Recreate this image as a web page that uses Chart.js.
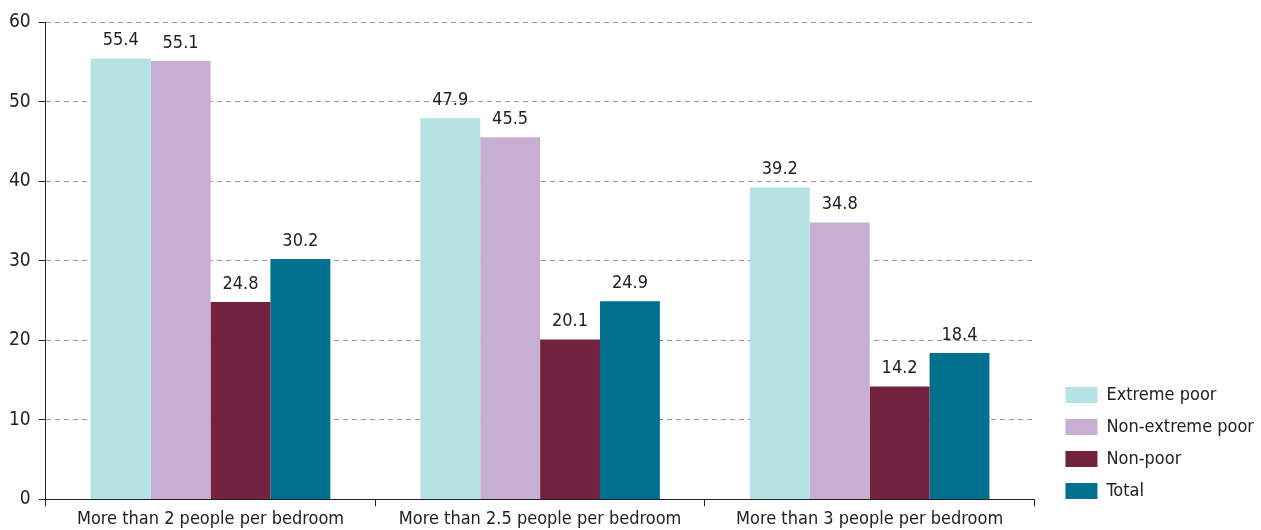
<!DOCTYPE html>
<html>
<head>
<meta charset="utf-8">
<script src="https://cdn.jsdelivr.net/npm/chart.js@4"></script>
<style>
  html, body { margin: 0; padding: 0; background: #fff; }
  #wrap { width: 1261px; height: 530px; }
</style>
</head>
<body>
<div id="wrap"><canvas id="crowdChart"></canvas></div>
<script>
const categories = ['More than 2 people per bedroom', 'More than 2.5 people per bedroom', 'More than 3 people per bedroom'];
const seriesNames = ['Extreme poor', 'Non-extreme poor', 'Non-poor', 'Total'];
const extremePoor = [55.4, 47.9, 39.2];
const nonExtremePoor = [55.1, 45.5, 34.8];
const nonPoor = [24.8, 20.1, 14.2];
const total = [30.2, 24.9, 18.4];
const yTicks = [0, 10, 20, 30, 40, 50, 60];
const colors = ['#b5e2e5', '#c9aed3', '#72223f', '#00708f'];

const FONT = "'Liberation Sans Narrow', 'DejaVu Sans Condensed', 'Roboto', sans-serif";

// draws the value above every bar
const valueLabels = {
  id: 'valueLabels',
  afterDatasetsDraw(chart) {
    const ctx = chart.ctx;
    ctx.save();
    ctx.font = '18px ' + FONT;
    ctx.fillStyle = '#222';
    ctx.textAlign = 'center';
    ctx.textBaseline = 'bottom';
    chart.data.datasets.forEach((ds, i) => {
      chart.getDatasetMeta(i).data.forEach((bar, j) => {
        ctx.fillText(ds.data[j].toFixed(1), bar.x, bar.y - 9);
      });
    });
    ctx.restore();
  }
};

// nudge the legend a bit right and up, like the original
const legendShift = {
  id: 'legendShift',
  afterLayout(chart) {
    const lg = chart.legend;
    if (!lg) return;
    lg.left += 17; lg.right += 17;
    lg.top -= 18; lg.bottom -= 18;
  }
};

document.addEventListener('DOMContentLoaded', function () {
  const allSeries = [extremePoor, nonExtremePoor, nonPoor, total];
  const ctx = document.getElementById('crowdChart').getContext('2d');
  new Chart(ctx, {
    type: 'bar',
    data: {
      labels: categories,
      datasets: allSeries.map((vals, i) => ({
        label: seriesNames[i],
        data: vals,
        backgroundColor: colors[i],
        borderWidth: 0,
        barPercentage: 1,
        categoryPercentage: 0.727
      }))
    },
    options: {
      responsive: true,
      maintainAspectRatio: false,
      animation: false,
      layout: { padding: { top: 22, right: 14, left: 1, bottom: -2 } },
      plugins: {
        legend: {
          position: 'right',
          align: 'end',
          labels: {
            boxWidth: 32,
            boxHeight: 16,
            padding: 14,
            color: '#222',
            font: { family: FONT, size: 18 }
          }
        },
        tooltip: { enabled: false }
      },
      scales: {
        x: {
          grid: {
            offset: true,
            drawOnChartArea: false,
            drawTicks: true,
            tickLength: 7,
            tickColor: '#222',
            tickWidth: 1
          },
          border: { color: '#222', width: 1 },
          ticks: { color: '#222', font: { family: FONT, size: 18 }, padding: 2, maxRotation: 0 }
        },
        y: {
          min: 0,
          max: 60,
          afterBuildTicks(scale) { scale.ticks = yTicks.map(v => ({ value: v })); },
          grid: {
            color: '#999',
            tickBorderDash: [],
            tickColor: '#222',
            tickLength: 7,
            lineWidth: 1
          },
          border: { color: '#222', width: 1, dash: [5, 4] },
          ticks: { color: '#222', font: { family: FONT, size: 19 }, padding: 8 }
        }
      }
    },
    plugins: [valueLabels, legendShift]
  });
});
</script>
</body>
</html>
